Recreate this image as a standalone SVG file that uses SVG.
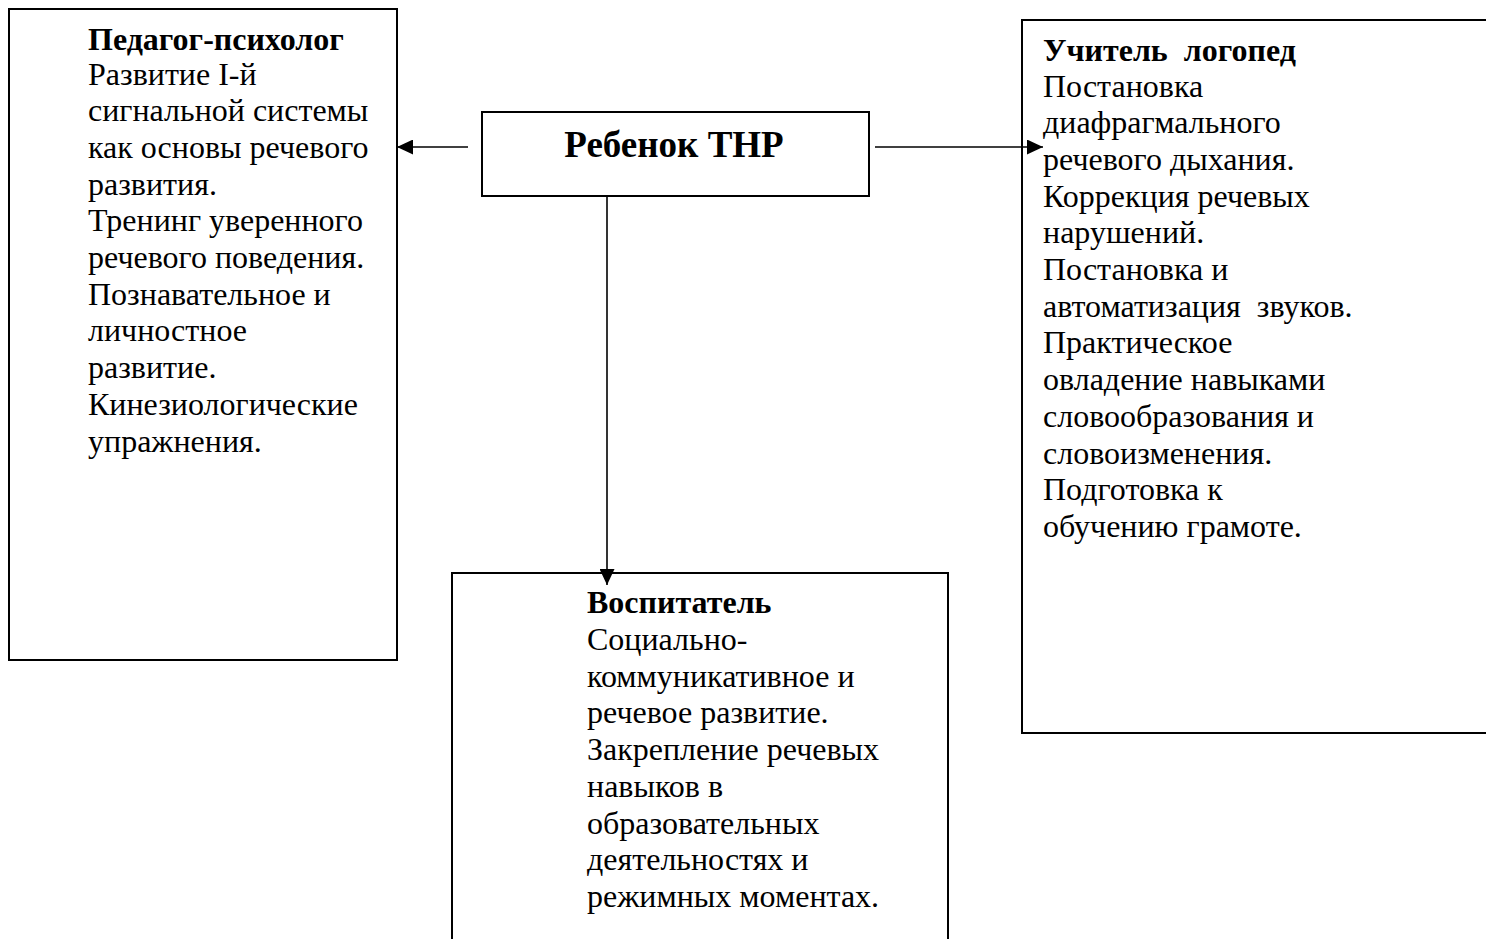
<svg xmlns="http://www.w3.org/2000/svg" width="1486" height="939" viewBox="0 0 1486 939">
<style>
.box{fill:#fff;stroke:#000;stroke-width:2}
.t{font-family:"Liberation Serif","Times New Roman",serif;font-size:32px;fill:#000;white-space:pre}
.b{font-weight:bold}
.c{font-family:"Liberation Serif","Times New Roman",serif;font-size:37px;font-weight:bold;fill:#000}
.ln{stroke:#000;stroke-width:1.6;fill:none}
</style>
<defs>
<marker id="ah" markerWidth="16" markerHeight="15" refX="16" refY="7.5" orient="auto" markerUnits="userSpaceOnUse">
<path d="M0,0 L16,7.5 L0,15 Z" fill="#000"/>
</marker>
</defs>
<rect width="1486" height="939" fill="#fff"/>
<g id="psychologist">
<rect class="box" x="9" y="9" width="388" height="651"/>
<text class="t" xml:space="preserve"><tspan class="b" x="88" y="50">Педагог-психолог</tspan><tspan x="88" y="84.5">Развитие I-й</tspan><tspan x="88" y="121.2">сигнальной системы</tspan><tspan x="88" y="157.9">как основы речевого</tspan><tspan x="88" y="194.6">развития.</tspan><tspan x="88" y="231.3">Тренинг уверенного</tspan><tspan x="88" y="268">речевого поведения.</tspan><tspan x="88" y="304.7">Познавательное и</tspan><tspan x="88" y="341.4">личностное</tspan><tspan x="88" y="378.1">развитие.</tspan><tspan x="88" y="414.8">Кинезиологические</tspan><tspan x="88" y="451.5">упражнения.</tspan></text>
</g>
<g id="child">
<rect class="box" x="482" y="112" width="387" height="84"/>
<text class="c" x="674" y="157" text-anchor="middle">Ребенок ТНР</text>
</g>
<g id="speech-therapist">
<path class="box" d="M1500,20 L1022,20 L1022,733 L1500,733"/>
<text class="t" xml:space="preserve"><tspan class="b" x="1043" y="61">Учитель  логопед</tspan><tspan x="1043" y="96.5">Постановка</tspan><tspan x="1043" y="133.2">диафрагмального</tspan><tspan x="1043" y="169.9">речевого дыхания.</tspan><tspan x="1043" y="206.6">Коррекция речевых</tspan><tspan x="1043" y="243.3">нарушений.</tspan><tspan x="1043" y="280">Постановка и</tspan><tspan x="1043" y="316.7">автоматизация  звуков.</tspan><tspan x="1043" y="353.4">Практическое</tspan><tspan x="1043" y="390.1">овладение навыками</tspan><tspan x="1043" y="426.8">словообразования и</tspan><tspan x="1043" y="463.5">словоизменения.</tspan><tspan x="1043" y="500.2">Подготовка к</tspan><tspan x="1043" y="536.9">обучению грамоте.</tspan></text>
</g>
<g id="educator">
<path class="box" d="M452,950 L452,573 L948,573 L948,950"/>
<text class="t" xml:space="preserve"><tspan class="b" x="587" y="613">Воспитатель</tspan><tspan x="587" y="650">Социально-</tspan><tspan x="587" y="686.7">коммуникативное и</tspan><tspan x="587" y="723.4">речевое развитие.</tspan><tspan x="587" y="760.1">Закрепление речевых</tspan><tspan x="587" y="796.8">навыков в</tspan><tspan x="587" y="833.5">образовательных</tspan><tspan x="587" y="870.2">деятельностях и</tspan><tspan x="587" y="906.9">режимных моментах.</tspan></text>
</g>
<g id="connectors">
<line class="ln" x1="468" y1="147" x2="397" y2="147" marker-end="url(#ah)"/>
<line class="ln" x1="875" y1="147" x2="1043" y2="147" marker-end="url(#ah)"/>
<line class="ln" x1="607" y1="196" x2="607" y2="585" marker-end="url(#ah)"/>
</g>
</svg>
